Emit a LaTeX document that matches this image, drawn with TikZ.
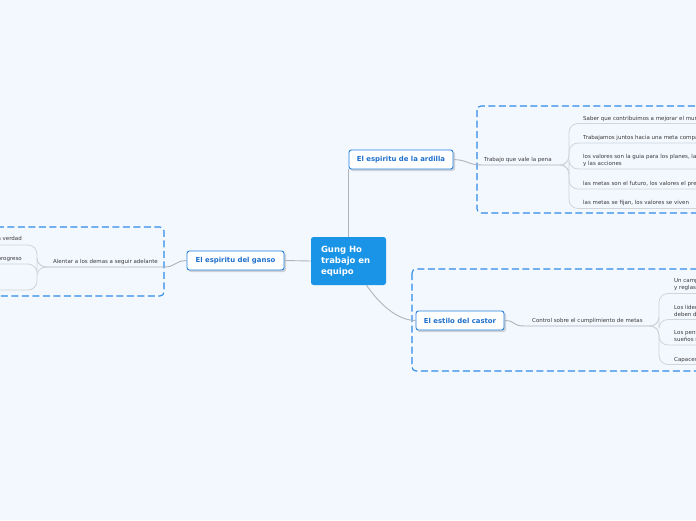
\documentclass[tikz,border=0pt]{standalone}
\usepackage{fontspec}
\setmainfont{DejaVu Sans}
\definecolor{bg}{HTML}{F3F7FE}
\definecolor{centralblue}{HTML}{1A94E6}
\definecolor{topicblue}{HTML}{2482DE}
\definecolor{topictext}{HTML}{1E6FCC}
\definecolor{dashblue}{HTML}{2F8BE8}
\definecolor{mainline}{HTML}{AEB4BD}
\definecolor{subline}{HTML}{D0D5DC}
\definecolor{txt}{HTML}{3A3A3A}
\tikzset{
  topic/.style={draw=topicblue, line width=0.9pt, fill=white, rounded corners=2.5pt,
    font=\bfseries\fontsize{6.9}{8}\selectfont, text=topictext, minimum height=19pt, inner sep=0pt},
  central/.style={fill=centralblue, rounded corners=2.5pt, text=white, align=left,
    font=\bfseries\fontsize{8.5}{11}\selectfont, text width=55pt, inner xsep=10pt, inner ysep=0pt,
    minimum height=48pt},
  leaf/.style={font=\fontsize{5.5}{7}\selectfont, text=txt, inner sep=0pt, align=left},
  sub/.style={font=\fontsize{5.5}{7}\selectfont, text=txt, inner sep=0pt},
  mainconn/.style={draw=mainline, line width=0.9pt},
  subconn/.style={draw=subline, line width=0.8pt},
  groupbox/.style={draw=dashblue, line width=1.1pt, dash pattern=on 7pt off 3.5pt, rounded corners=4pt},
  shadowbox/.style={fill=black, opacity=0.15, rounded corners=2.5pt}
}
\begin{document}
\begin{tikzpicture}[x=1pt,y=-1pt]
\fill[bg] (0,0) rectangle (696,520);
\useasboundingbox (0,0) rectangle (696,520);
\clip (0,0) rectangle (696,520);

% group boxes
\draw[groupbox] (477,106) rectangle (720,213);
\draw[groupbox] (412,269) rectangle (720,371);
\draw[groupbox] (-20,227) rectangle (164,296);

% central
\node[central] (c) at (348.5,261) {Gung Ho\\trabajo en\\equipo};

% topics (shadows)
\fill[shadowbox] (350,151.5) rectangle (455,171);
\fill[shadowbox] (188.5,252.5) rectangle (286,272);
\fill[shadowbox] (417,312.5) rectangle (506,332);
\node[topic, minimum width=104pt] (ard) at (401,159.5) {El espiritu de la ardilla};
\node[topic, minimum width=97pt] (gan) at (235.5,260.5) {El espiritu del ganso};
\node[topic, minimum width=88pt] (cas) at (460,320.5) {El estilo del castor};

% main connectors
\draw[mainconn] ([xshift=-0.5pt]c.north -| ard.south west) -- ([xshift=-0.5pt]ard.south west);
\draw[mainconn] (c.west) -- (gan.east);
\draw[mainconn] ([xshift=18pt]c.south) .. controls (380,305) and (398,320.5) .. (cas.west);

% subtopics
\node[sub, anchor=base west] (s1) at (484,161) {Trabajo que vale la pena};
\node[sub, anchor=base west] (s2) at (532,322) {Control sobre el cumplimiento de metas};
\node[sub, anchor=base west] (s3) at (53,263) {Alentar a los demas a seguir adelante};
\coordinate (j1) at (564,165);
\coordinate (j2) at (652,326);
\coordinate (j3) at (44,267);
\draw[mainconn] (ard.east) .. controls (468,160) and (468,165) .. (482,165) -- (j1);
\draw[mainconn] (cas.east) .. controls (516,320.5) and (512,326) .. (524,326) -- (j2);
\draw[mainconn] (gan.west) .. controls (174,261) and (176,267) .. (164,267) -- (j3);

% ardilla leaves
\node[leaf, anchor=base west] (a1) at (583,120) {Saber que contribuimos a mejorar el mun};
\node[leaf, anchor=base west] (a2) at (583,139) {Trabajamos juntos hacia una meta compa};
\node[leaf, anchor=base west] (a3) at (583,158) {los valores son la guia para los planes, las};
\node[leaf, anchor=base west] (a3b) at (583,165) {y las acciones};
\node[leaf, anchor=base west] (a4) at (583,185) {las metas son el futuro, los valores el pres};
\node[leaf, anchor=base west] (a5) at (583,204) {las metas se fijan, los valores se viven};
\foreach \y in {123.5,143,169,189,208.5}{
  \draw[subconn, rounded corners=9pt] (j1) -| (569,\y) -- (700,\y);
}

% castor leaves
\node[leaf, anchor=base west] (k1) at (674,282.5) {Un campo};
\node[leaf, anchor=base west] (k1b) at (674,289.5) {y reglas};
\node[leaf, anchor=base west] (k2) at (674,309) {Los lideres};
\node[leaf, anchor=base west] (k2b) at (674,316) {deben dar};
\node[leaf, anchor=base west] (k3) at (674,334.5) {Los pensar};
\node[leaf, anchor=base west] (k3b) at (674,341.5) {sueños son};
\node[leaf, anchor=base west] (k4) at (674,361) {Capaces de};
\foreach \y in {293.5,319.5,345,364.5}{
  \draw[subconn, rounded corners=9pt] (j2) -| (659,\y) -- (700,\y);
}

% ganso leaves
\node[leaf, anchor=base east] (g1) at (22,240) {la verdad};
\node[leaf, anchor=base east] (g2) at (22,260) {el progreso};
\foreach \y in {245,264,290}{
  \draw[subconn, rounded corners=9pt] (j3) -| (37,\y) -- (-5,\y);
}
\end{tikzpicture}
\end{document}
